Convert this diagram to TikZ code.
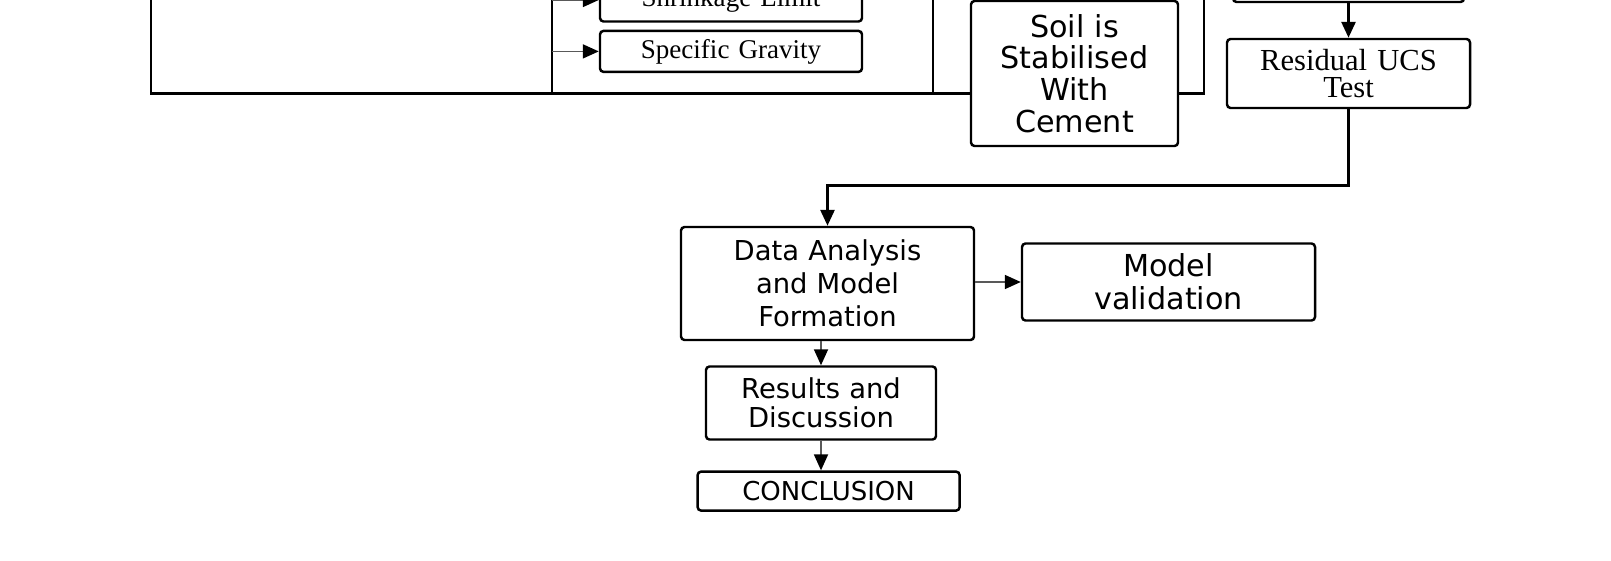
\documentclass[tikz,border=0pt]{standalone}
\usepackage{fontspec}
\setmainfont{DejaVu Sans}
\newfontfamily\timesface{Liberation Serif}
\usetikzlibrary{positioning,arrows.meta,calc}
\tikzset{
  >={Triangle[length=1.6mm,width=1.4mm]},
  box/.style={draw, rounded corners=1pt, align=center, line width=0.7pt, inner sep=0pt,
              text width=#1, minimum width=#1},
  box/.default=26mm,
  sans/.style={box=#1, font=\fontsize{7.8}{9.4}\selectfont},
  serif/.style={box=#1, font=\timesface\fontsize{7.7}{8.8}\selectfont},
  line/.style={line width=0.8pt},
  flow/.style={->, line width=0.8pt},
  tick/.style={-{Triangle[length=1.6mm,width=1.4mm,black]}, line width=0.5pt, gray!70!black}
}
\begin{document}
\begin{tikzpicture}
\clip (0,0) rectangle (16.11,-5.60);
\node[serif=26.2mm, minimum height=4.3mm] (shrink) at (7.31,0) {Shrinkage Limit};
\node[serif=26.2mm, minimum height=4.1mm] (grav) at (7.31,-0.514) {Specific Gravity};
\node[sans=20.7mm, minimum height=14.5mm, font=\fontsize{8.6}{9}\selectfont] (soil) at (10.745,-0.735) {Soil is\\ Stabilised\\ With\\ Cement};
\node[box=23.1mm, minimum height=6mm] (ucs) at (13.485,0.28) {};
\node[serif=24.3mm, minimum height=6.9mm, font=\timesface\fontsize{8.7}{7.6}\selectfont] (resid) at (13.485,-0.735) {Residual UCS\\ Test};
\node[sans=29.3mm, minimum height=11.3mm] (anal) at (8.275,-2.835) {Data Analysis\\ and Model\\ Formation};
\node[sans=29.3mm, minimum height=7.7mm, font=\fontsize{8.6}{9.4}\selectfont] (valid) at (11.685,-2.82) {Model\\ validation};
\node[sans=23mm, minimum height=7.3mm, font=\fontsize{7.8}{8.3}\selectfont] (res) at (8.21,-4.03) {Results and\\ Discussion};
\node[sans=26.2mm, minimum height=3.9mm, font=\fontsize{7.4}{9}\selectfont] (concl) at (8.286,-4.911) {CONCLUSION};
% lines coming down from above the frame
\coordinate (l1) at (1.51,0.3);
\coordinate (l2) at (5.52,0.3);
\coordinate (l3) at (9.33,0.3);
\coordinate (l4) at (12.04,0.3);
\coordinate (join) at ($(soil.west)+(0,-0.2)$);
\draw[line] (l1) |- (join);
\draw[line] (l2) -- (l2 |- join);
\draw[line] (l3) -- (l3 |- join);
\draw[line] (l4) |- (soil.east |- join);
\draw[tick] (l2 |- shrink) -- (shrink.west);
\draw[tick] (l2 |- grav) -- (grav.west);
\draw[flow] (ucs) -- (resid);
\draw[flow] (resid.south) -- ++(0,-0.76) -| (anal.north);
\draw[tick] (anal.east |- valid.west) -- (valid.west);
\draw[tick] (anal.south -| res.north) -- (res.north);
\draw[tick] (res.south) -- (concl.north -| res.south);
\end{tikzpicture}
\end{document}
